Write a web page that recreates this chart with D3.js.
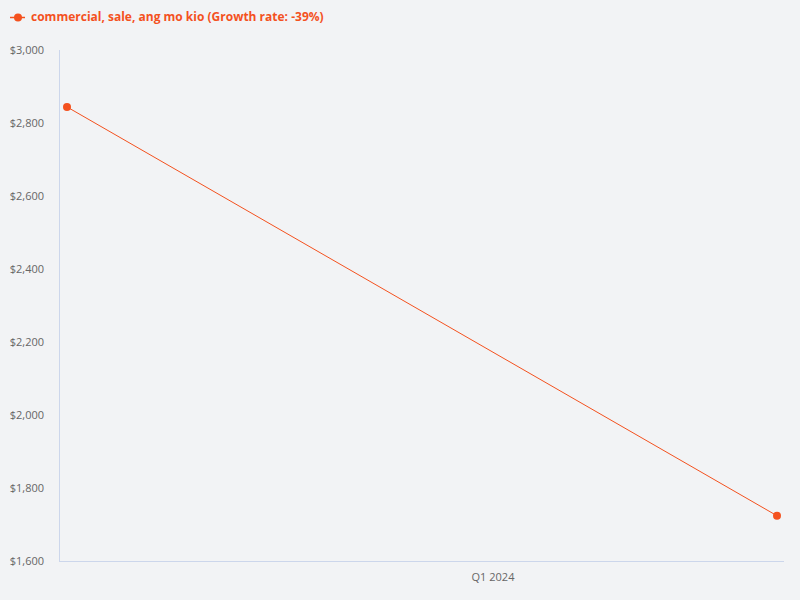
<!DOCTYPE html>
<html><head><meta charset="utf-8">
<script src="https://cdn.jsdelivr.net/npm/d3@7"></script>
<style>
html,body{margin:0;padding:0;background:#f2f3f5;}
svg{display:block;font-family:"Open Sans","Noto Sans",sans-serif;}
</style></head>
<body><svg id="c" width="800" height="600"></svg>
<script>
const seriesName = "commercial, sale, ang mo kio (Growth rate: -39%)";
const dates = ["2023-08-19", "2024-03-31"];
const values = [2844, 1724];
const yTicks = [1600, 1800, 2000, 2200, 2400, 2600, 2800, 3000];
const xTicks = ["2024-01-01"];
const xTickLabels = ["Q1 2024"];

const color = "#f4511e";
const svg = d3.select("#c");
const parse = d3.timeParse("%Y-%m-%d");
const pts = dates.map((d,i)=>({x:parse(d), y:values[i]}));

const plot = {left:59, right:784, top:50, bottom:561};
const x = d3.scaleTime().domain(d3.extent(pts,d=>d.x)).range([67,777]);
const y = d3.scaleLinear().domain([1600,3000]).range([plot.bottom, plot.top]);

// axes lines
svg.append("line").attr("x1",plot.left+0.5).attr("x2",plot.left+0.5).attr("y1",plot.top).attr("y2",plot.bottom)
  .attr("stroke","#ccd6eb").attr("stroke-width",1);
svg.append("line").attr("x1",plot.left).attr("x2",plot.right).attr("y1",plot.bottom+0.5).attr("y2",plot.bottom+0.5)
  .attr("stroke","#ccd6eb").attr("stroke-width",1);

// y labels
const fmt = d3.format("$,");
svg.append("g").selectAll("text").data(yTicks).join("text")
  .attr("x",44).attr("y",d=>y(d)).attr("dy","0.35em").attr("text-anchor","end")
  .attr("font-size",11).attr("fill","#666").text(d=>fmt(d));

// x labels
svg.append("g").selectAll("text").data(xTicks).join("text")
  .attr("x",d=>x(parse(d))).attr("y",plot.bottom+20).attr("text-anchor","middle")
  .attr("font-size",11).attr("fill","#666").text((d,i)=>xTickLabels[i]);

// line
svg.append("path").datum(pts).attr("fill","none").attr("stroke",color).attr("stroke-width",1)
  .attr("d", d3.line().x(d=>x(d.x)).y(d=>y(d.y)));
svg.append("g").selectAll("circle").data(pts).join("circle")
  .attr("cx",d=>x(d.x)).attr("cy",d=>y(d.y)).attr("r",4).attr("fill",color);

// legend
const lg = svg.append("g").attr("transform","translate(10,17)");
lg.append("line").attr("x1",0).attr("x2",15).attr("y1",0.5).attr("y2",0.5).attr("stroke",color).attr("stroke-width",1.5);
lg.append("circle").attr("cx",8).attr("cy",0.5).attr("r",4).attr("fill",color);
lg.append("text").attr("x",21).attr("y",0).attr("dy","0.35em").attr("font-size",12).attr("font-weight","bold")
  .attr("fill",color).text(seriesName);
</script></body></html>
